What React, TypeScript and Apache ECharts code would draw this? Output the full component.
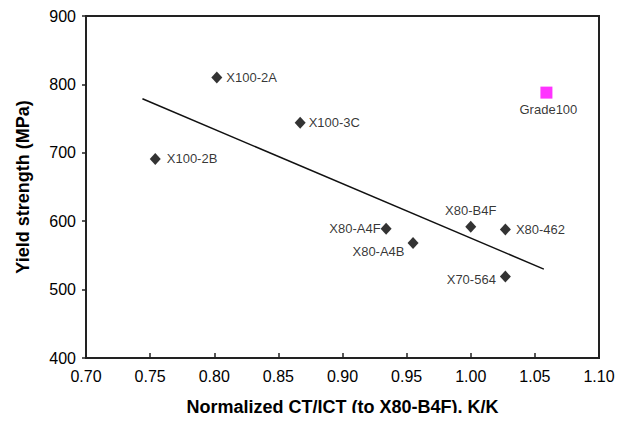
import React, { useEffect, useRef } from "react";
import * as echarts from "echarts";

// Steel samples: normalized CT/ICT vs. yield strength
const sampleNames = ["X100-2A", "X100-2B", "X100-3C", "X80-A4F", "X80-A4B", "X80-B4F", "X80-462", "X70-564"];
const sampleCtIct = [0.802, 0.754, 0.867, 0.934, 0.955, 1.0, 1.027, 1.027];
const sampleYield = [810, 691, 744, 589, 568, 592, 588, 519];

const gradeName = "Grade100";
const gradeCtIct = [1.059];
const gradeYield = [788];

// Linear trend endpoints
const trendX = [0.744, 1.057];
const trendY = [779, 530];

const xTicks = { min: 0.7, max: 1.1, step: 0.05 };
const yTicks = { min: 400, max: 900, step: 100 };

// Label placement per sample
const labelStyles: Record<string, any> = {
  "X100-2A": { position: "right", distance: 4 },
  "X100-2B": { position: "right", distance: 6 },
  "X100-3C": { position: "right", distance: 3 },
  "X80-A4F": { position: "left", distance: 0 },
  "X80-A4B": { position: "left", distance: 3, offset: [0, 8] },
  "X80-B4F": { position: "top", distance: 4 },
  "X80-462": { position: "right", distance: 5 },
  "X70-564": { position: "left", distance: 4, offset: [0, 3] },
};

const FONT = "'Liberation Sans', Arial, Helvetica, sans-serif";

export default function App() {
  const ref = useRef<HTMLDivElement>(null);

  useEffect(() => {
    if (!ref.current) return;
    const chart = echarts.init(ref.current, null, { renderer: "svg" });

    const sampleData = sampleNames.map((name, i) => ({
      name,
      value: [sampleCtIct[i], sampleYield[i]],
      label: { show: true, formatter: name, ...labelStyles[name] },
    }));

    chart.setOption({
      animation: false,
      backgroundColor: "#ffffff",
      grid: {
        left: 86,
        right: 28,
        top: 16,
        bottom: 60,
        show: true,
        borderColor: "#222",
        borderWidth: 2,
        backgroundColor: "transparent",
      },
      xAxis: {
        type: "value",
        min: xTicks.min,
        max: xTicks.max,
        interval: xTicks.step,
        name: "Normalized CT/ICT (to X80-B4F), K/K",
        nameLocation: "middle",
        nameGap: 40,
        nameTextStyle: { fontFamily: FONT, fontSize: 18, fontWeight: "bold", color: "#000" },
        axisLine: { show: true, lineStyle: { color: "#222", width: 2 } },
        axisTick: { show: true, inside: true, length: 5, lineStyle: { color: "#222", width: 1.5 } },
        axisLabel: {
          fontFamily: FONT,
          fontSize: 16,
          color: "#000",
          margin: 10,
          formatter: (v: number) => v.toFixed(2),
        },
        splitLine: { show: false },
      },
      yAxis: {
        type: "value",
        min: yTicks.min,
        max: yTicks.max,
        interval: yTicks.step,
        name: "Yield strength (MPa)",
        nameLocation: "middle",
        nameGap: 54,
        nameTextStyle: { fontFamily: FONT, fontSize: 18, fontWeight: "bold", color: "#000" },
        axisLine: { show: true, lineStyle: { color: "#222", width: 2 } },
        axisTick: { show: true, inside: false, length: 4, lineStyle: { color: "#222", width: 1.5 } },
        axisLabel: { fontFamily: FONT, fontSize: 16, color: "#000", margin: 10 },
        splitLine: { show: false },
      },
      series: [
        {
          type: "line",
          data: trendX.map((x, i) => [x, trendY[i]]),
          showSymbol: false,
          symbol: "none",
          lineStyle: { color: "#111", width: 1.5 },
          silent: true,
          z: 2,
        },
        {
          type: "scatter",
          data: sampleData,
          symbol: "diamond",
          symbolSize: [11, 12],
          itemStyle: { color: "#000" },
          label: { fontFamily: FONT, fontSize: 13, color: "#000" },
          z: 3,
        },
        {
          type: "scatter",
          data: gradeCtIct.map((x, i) => ({
            name: gradeName,
            value: [x, gradeYield[i]],
            label: { show: true, formatter: gradeName, position: "bottom", distance: 4, offset: [2, 0] },
          })),
          symbol: "rect",
          symbolSize: 12,
          itemStyle: { color: "#ff00ff" },
          label: { fontFamily: FONT, fontSize: 13, color: "#000" },
          z: 3,
        },
      ],
    });

    return () => chart.dispose();
  }, []);

  return <div ref={ref} style={{ width: 627, height: 421, margin: -8 }} />;
}
